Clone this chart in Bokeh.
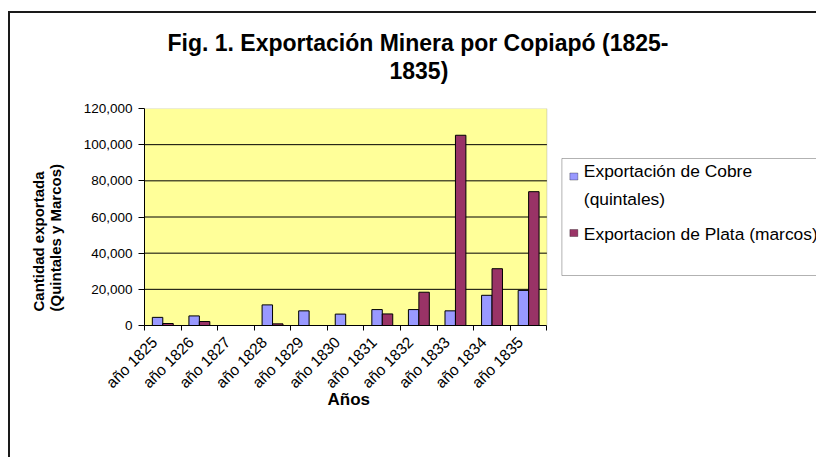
import math
from bokeh.plotting import figure
from bokeh.models import (ColumnDataSource, Range1d, FixedTicker, NumeralTickFormatter,
                          Title, Label, BoxAnnotation)
from bokeh.transform import dodge
from bokeh.embed import file_html
from bokeh.resources import INLINE

# ---------------- data ----------------
years = ["año 1825", "año 1826", "año 1827", "año 1828", "año 1829", "año 1830",
         "año 1831", "año 1832", "año 1833", "año 1834", "año 1835"]
cobre = [4500, 5300, 0, 11400, 8100, 6300, 8800, 8800, 8100, 16700, 19400]
plata = [1100, 2200, 0, 900, 0, 0, 6400, 18400, 105200, 31400, 74000]
y_ticks = [0, 20000, 40000, 60000, 80000, 100000, 120000]
title_lines = ["Fig. 1. Exportación Minera por Copiapó (1825-", "1835)"]
y_title = "Cantidad exportada\n(Quintales y Marcos)"
x_title = "Años"
legend_labels = ["Exportación de Cobre\n(quintales)", "Exportacion de Plata (marcos)"]
colors = ["#9999FF", "#993366"]

FONT = "Liberation Sans"
n = len(years)
label_pos = [i + 0.27 for i in range(n)]
bounds = [float(i) for i in range(n + 1)]

# ---------------- layout (page px) ----------------
OX, OY = 10, 13                      # canvas origin on the page (after margin + border)
W, H = 818 - OX, 459 - OY
PL, PR, PT, PB = 143, 546, 108, 325  # plot area on the page
YMAX = y_ticks[-1]
XS = (PR - PL) / n                   # px per category
YS = YMAX / (PB - PT)                # value per px
X_END = n * (818 - PL) / (PR - PL)   # frame extends to the right edge (room for the legend)


def dx(px):
    return (px - PL) / XS


def dy(py):
    return (PB - py) * YS


p = figure(width=W, height=H, x_range=Range1d(0, X_END), y_range=Range1d(0, YMAX),
           output_backend="svg", toolbar_location=None, title=None,
           min_border_left=PL - OX, min_border_right=0, min_border_top=PT - OY,
           min_border_bottom=H - (PB - OY),
           styles={"margin-left": "8px", "margin-top": "11px",
                   "border-left": "2px solid #1a1a1a", "border-top": "2px solid #1a1a1a"})

p.background_fill_color = "white"
p.border_fill_color = "white"
p.outline_line_color = None

# plot area (yellow) with grey border
p.add_layout(BoxAnnotation(left=0, right=n, bottom=0, top=YMAX, fill_color="#FFFF99",
                           fill_alpha=1, line_color="#808080", line_width=1, level="image"))

# horizontal gridlines over the plot area only
p.xgrid.visible = False
p.ygrid.visible = False
grid_src = ColumnDataSource(dict(y=y_ticks[1:-1], x0=[0] * 5, x1=[n] * 5))
p.segment(x0="x0", x1="x1", y0="y", y1="y", source=grid_src, line_color="black", line_width=1)

src = ColumnDataSource(dict(x=[i + 0.5 for i in range(n)], cobre=cobre, plata=plata, year=years))
bw = 1 / 3.5
r1 = p.vbar(x=dodge("x", -bw / 2), top="cobre", width=bw, source=src,
            fill_color=colors[0], line_color="black", line_width=1)
r2 = p.vbar(x=dodge("x", bw / 2), top="plata", width=bw, source=src,
            fill_color=colors[1], line_color="black", line_width=1)

# axes
p.yaxis.ticker = FixedTicker(ticks=y_ticks)
p.yaxis.formatter = NumeralTickFormatter(format="0,0")
p.yaxis.axis_line_color = "black"
p.yaxis.major_tick_line_color = "black"
p.yaxis.major_tick_out = 6
p.yaxis.major_tick_in = 0
p.yaxis.minor_tick_line_color = None
p.yaxis.major_label_text_font = FONT
p.yaxis.major_label_text_font_size = "13.5px"
p.yaxis.major_label_text_color = "black"
p.yaxis.major_label_standoff = 6

p.xaxis.bounds = (0, n)
p.xaxis.ticker = FixedTicker(ticks=label_pos, minor_ticks=bounds)
p.xaxis.major_label_overrides = {c: lbl for c, lbl in zip(label_pos, years)}
p.xaxis.axis_line_color = "black"
p.xaxis.major_tick_line_color = None
p.xaxis.major_tick_out = 0
p.xaxis.major_tick_in = 0
p.xaxis.minor_tick_line_color = "black"
p.xaxis.minor_tick_out = 5
p.xaxis.minor_tick_in = 0
p.xaxis.major_label_orientation = math.pi / 4
p.xaxis.major_label_text_font = FONT
p.xaxis.major_label_text_font_size = "15.5px"
p.xaxis.major_label_text_color = "black"
p.xaxis.major_label_standoff = 9

# x-axis title, centred under the plot area (pulled up into the label band)
p.add_layout(Title(text=x_title, align="left", offset=347 - 21 - PL, standoff=-22,
                   vertical_align="top", text_font=FONT, text_font_size="17px",
                   text_font_style="bold", text_color="black"), "below")

# title: spacer nearest the frame, then line 2, then line 1
TFS = "23px"
p.add_layout(Title(text=" ", text_font_size="1px", standoff=22), "above")
p.add_layout(Title(text=title_lines[1], align="left", offset=388 - PL, standoff=0,
                   vertical_align="bottom", text_font=FONT, text_font_size=TFS,
                   text_font_style="bold", text_color="black"), "above")
p.add_layout(Title(text=title_lines[0], align="left", offset=166 - PL, standoff=0,
                   vertical_align="bottom", text_font=FONT, text_font_size=TFS,
                   text_font_style="bold", text_color="black"), "above")

# y title on the left panel
p.add_layout(Title(text=y_title, align="left", offset=14, standoff=34,
                   vertical_align="bottom", text_font=FONT, text_font_size="15px",
                   text_font_style="bold", text_color="black"), "left")

# legend (box, keys, labels) to the right of the plot area
p.add_layout(BoxAnnotation(left=dx(561), right=dx(840), top=dy(158), bottom=dy(275),
                           fill_color="white", fill_alpha=1, line_color="black", line_width=1))
for key_top, c in zip([172.5, 229], colors):
    p.add_layout(BoxAnnotation(left=dx(569), right=dx(577), top=dy(key_top),
                               bottom=dy(key_top + 7), fill_color=c, fill_alpha=1,
                               line_color="black", line_width=1))
for lab, cy in zip(legend_labels, [184.5, 233.5]):
    p.add_layout(Label(x=dx(583), y=dy(cy), text=lab, text_align="left",
                       text_baseline="middle", text_font=FONT, text_font_size="17.4px",
                       text_line_height=1.42, text_color="black"))

open("out.html", "w").write(file_html(p, INLINE))
